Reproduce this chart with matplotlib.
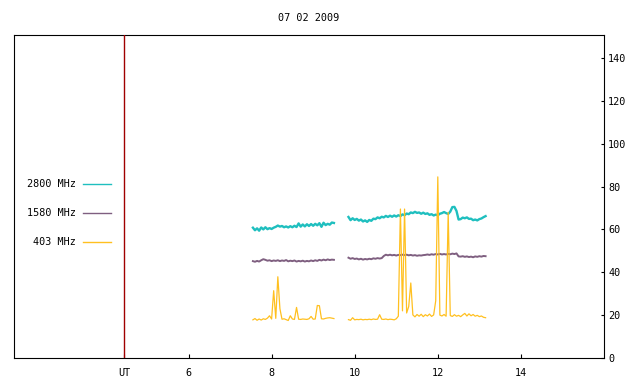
import numpy as np
import matplotlib
matplotlib.use('Agg')
import matplotlib.pyplot as plt

# time axis (UT hours), two recording blocks sampled every 0.05 h
t_a = np.round(7.55 + 0.05 * np.arange(40), 2)
t_b = np.round(9.85 + 0.05 * np.arange(67), 2)

f2800_a = [60.8, 59.6, 60.5, 59.4, 60.9, 60.0, 61.0, 60.1, 60.6, 60.2,
           60.8, 61.2, 61.8, 61.3, 61.6, 61.0, 61.4, 60.9, 61.5, 61.0,
           61.7, 61.1, 62.8, 61.3, 62.3, 61.4, 62.4, 61.6, 62.5, 61.7,
           62.6, 61.9, 62.9, 61.2, 63.1, 62.0, 62.6, 62.2, 63.2, 63.0]
f2800_b = [65.8, 64.3, 65.2, 64.4, 64.9, 64.1, 64.6, 63.7, 64.2, 63.5,
           64.4, 64.0, 65.0, 64.8, 65.6, 65.2, 65.9, 65.6, 66.3, 65.8,
           66.4, 65.9, 66.5, 66.0, 66.6, 66.2, 67.0, 66.6, 67.4, 67.1,
           67.9, 67.6, 68.2, 67.7, 67.9, 67.3, 67.8, 67.2, 67.5, 66.8,
           67.1, 66.5, 66.9, 66.6, 67.3, 67.6, 68.1, 67.6, 67.2, 68.3,
           70.4, 70.5, 68.6, 64.6, 64.8, 65.5, 65.2, 65.6, 64.9, 65.0,
           64.3, 64.6, 64.2, 64.8, 65.1, 65.7, 66.2]

f1580_a = [45.2, 44.9, 45.3, 45.0, 45.6, 46.1, 45.8, 45.4, 45.6, 45.2,
           45.5, 45.3, 45.6, 45.2, 45.5, 45.3, 45.7, 45.1, 45.4, 45.2,
           45.5, 45.0, 45.3, 45.1, 45.4, 45.0, 45.3, 45.1, 45.5, 45.2,
           45.6, 45.3, 45.8, 45.5, 45.9, 45.6, 46.0, 45.7, 45.9, 45.8]
f1580_b = [46.8, 46.3, 46.6, 46.2, 46.4, 46.0, 46.3, 45.9, 46.2, 46.0,
           46.3, 46.1, 46.5, 46.3, 46.6, 46.4, 46.6, 47.6, 48.2, 47.9,
           48.2, 47.9, 48.1, 47.8, 48.1, 48.0, 48.2, 48.0, 48.2, 47.9,
           48.1, 47.8, 48.0, 47.7, 47.9, 47.8, 48.0, 48.1, 48.3, 48.1,
           48.4, 48.2, 48.5, 48.3, 48.6, 48.3, 48.5, 48.3, 48.6, 48.4,
           48.7, 48.5, 48.8, 47.4, 47.3, 47.5, 47.2, 47.4, 47.1, 47.3,
           47.0, 47.4, 47.2, 47.5, 47.3, 47.6, 47.5]

f403_a = [17.8, 18.4, 17.6, 18.2, 17.7, 18.3, 18.0, 18.6, 19.7, 18.2,
          31.4, 18.5, 37.9, 23.0, 18.1, 18.3, 17.9, 17.5, 19.7, 18.2,
          18.0, 23.6, 18.1, 18.0, 18.2, 18.1, 18.0, 18.3, 19.4, 18.1,
          18.2, 24.5, 24.4, 18.3, 18.2, 18.5, 18.7, 18.8, 18.6, 18.4]
f403_b = [17.9, 17.6, 18.8, 17.8, 18.0, 17.9, 18.1, 17.8, 18.0, 17.9,
          18.1, 17.9, 18.2, 18.0, 18.1, 20.2, 18.1, 18.0, 18.2, 17.9,
          18.1, 18.0, 17.8, 18.3, 19.5, 69.5, 22.0, 69.5, 21.0, 24.0,
          35.0, 20.1, 19.2, 20.3, 19.5, 20.4, 19.3, 20.2, 19.6, 20.5,
          19.4, 20.1, 26.7, 84.5, 20.0, 19.6, 20.3, 19.5, 67.9, 19.8,
          19.4, 20.2, 19.5, 19.9, 19.3, 20.1, 20.8, 19.6, 20.6, 19.7,
          20.3, 19.5, 19.9, 19.3, 19.6, 19.0, 18.8]

labels = ['2800 MHz', '1580 MHz', '403 MHz']
colors = ['#1fbfbf', '#7f5f80', '#ffc020']
widths = [1.7, 1.4, 0.9]
series = [(f2800_a, f2800_b), (f1580_a, f1580_b), (f403_a, f403_b)]
x_ticks = [4.45, 6, 8, 10, 12, 14]
x_labels = ['UT', '6', '8', '10', '12', '14']
y_ticks = [0, 20, 40, 60, 80, 100, 120, 140]

plt.rcParams['font.family'] = ['DejaVu Sans Mono']
plt.rcParams['font.size'] = 7.3

fig = plt.figure(figsize=(6.4, 3.84), dpi=100)
ax = fig.add_axes([14 / 640, 26 / 384, 590 / 640, 323 / 384])

for (va, vb), c, w in zip(series, colors, widths):
    ax.plot(t_a, va, color=c, lw=w)
    ax.plot(t_b, vb, color=c, lw=w)

ax.axvline(4.45, color='#a00000', lw=1.0, zorder=5)

ax.set_xlim(1.8, 16.0)
ax.set_ylim(0, 150.7)
ax.set_xticks(x_ticks)
ax.set_xticklabels(x_labels)
ax.set_yticks(y_ticks)
ax.yaxis.tick_right()
ax.tick_params(axis='x', direction='in', length=3, width=0.8, pad=7, top=False)
ax.tick_params(axis='y', direction='in', length=2.5, width=0.8, pad=3, left=False)
for s in ax.spines.values():
    s.set_linewidth(0.8)

fig.text(309 / 640, 1 - 18 / 384, '07 02 2009', ha='center', va='center')

# legend drawn by hand on the left, gnuplot style
for i, (lab, c) in enumerate(zip(labels, colors)):
    yy = 1 - (184 + 29 * i) / 384
    fig.text(76 / 640, yy, lab, ha='right', va='center')
    fig.add_artist(plt.Line2D([83 / 640, 111 / 640], [yy, yy], color=c, lw=1.0,
                              transform=fig.transFigure))

fig.savefig('out.png', dpi=100)
